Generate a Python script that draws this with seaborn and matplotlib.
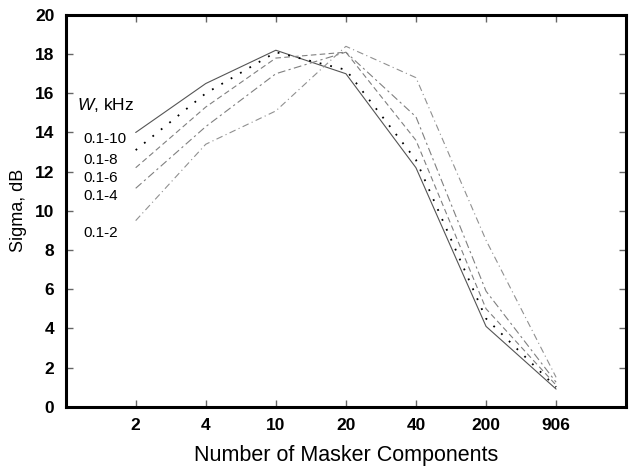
import numpy as np
import pandas as pd
import matplotlib
matplotlib.use("Agg")
import matplotlib.pyplot as plt
import seaborn as sns

categories = ["2", "4", "10", "20", "40", "200", "906"]
bands = ["0.1-10", "0.1-8", "0.1-6", "0.1-4", "0.1-2"]
w_10 = [14.0, 16.5, 18.2, 17.0, 12.2, 4.1, 0.9]
w_8 = [13.1, 16.0, 18.1, 17.2, 12.6, 4.5, 1.0]
w_6 = [12.2, 15.3, 17.8, 18.1, 13.6, 5.0, 1.1]
w_4 = [11.15, 14.3, 17.0, 18.1, 14.8, 5.9, 1.25]
w_2 = [9.5, 13.4, 15.1, 18.4, 16.8, 8.5, 1.5]
series = [w_10, w_8, w_6, w_4, w_2]
label_y = [13.68, 12.6, 11.7, 10.76, 8.87]

sns.set_theme(style="white")
plt.rcParams["font.family"] = ["Liberation Sans", "DejaVu Sans"]
plt.rcParams["text.color"] = "black"
plt.rcParams["axes.labelcolor"] = "black"
plt.rcParams["xtick.labelcolor"] = "black"
plt.rcParams["ytick.labelcolor"] = "black"
plt.rcParams["mathtext.fontset"] = "custom"
plt.rcParams["mathtext.it"] = "Liberation Sans:italic"
plt.rcParams["mathtext.rm"] = "Liberation Sans"

fig = plt.figure(figsize=(6.37, 4.68), dpi=100)
ax = fig.add_axes([0.103, 0.131, 0.880, 0.837])

pos = np.arange(1, len(categories) + 1)
rows = []
for b, vals in zip(bands, series):
    for p, v in zip(pos, vals):
        rows.append({"pos": p, "sigma": v, "band": b})
df = pd.DataFrame(rows)

styles = {
    "0.1-10": dict(color="#555555", dashes=(None, None), lw=0.8),
    "0.1-8": dict(color="#000000", dashes=(1, 5), lw=1.3),
    "0.1-6": dict(color="#808080", dashes=(5, 3), lw=0.8),
    "0.1-4": dict(color="#808080", dashes=(7, 3, 2, 3), lw=0.8),
    "0.1-2": dict(color="#909090", dashes=(6, 3, 1, 3), lw=0.8),
}
for b in bands:
    st = styles[b]
    sub = df[df["band"] == b]
    line = sns.lineplot(data=sub, x="pos", y="sigma", ax=ax, color=st["color"],
                        linewidth=st["lw"], legend=False).lines[-1]
    if st["dashes"][0] is not None:
        line.set_dashes(st["dashes"])

ax.set_xlim(0, 8)
ax.set_ylim(0, 20)
ax.set_xticks(pos)
ax.set_xticklabels(categories, fontweight="bold", fontsize=12.5)
ax.set_yticks(np.arange(0, 21, 2))
ax.set_yticklabels([str(v) for v in range(0, 21, 2)], fontweight="bold", fontsize=12.5)
ax.tick_params(direction="in", length=5, width=1, color="#666666",
               top=True, right=True, bottom=True, left=True, pad=8)
for s in ax.spines.values():
    s.set_linewidth(2.2)
    s.set_color("black")

ax.set_xlabel("Number of Masker Components", fontsize=15.5, labelpad=9)
ax.set_ylabel("Sigma, dB", fontsize=13, labelpad=6)

ax.text(0.16, 15.4, "$\\mathit{W}$, kHz", fontsize=12.5, va="center", ha="left")
for b, y in zip(bands, label_y):
    ax.text(0.26, y, b, fontsize=11, va="center", ha="left")

fig.savefig("out.png", dpi=100)
